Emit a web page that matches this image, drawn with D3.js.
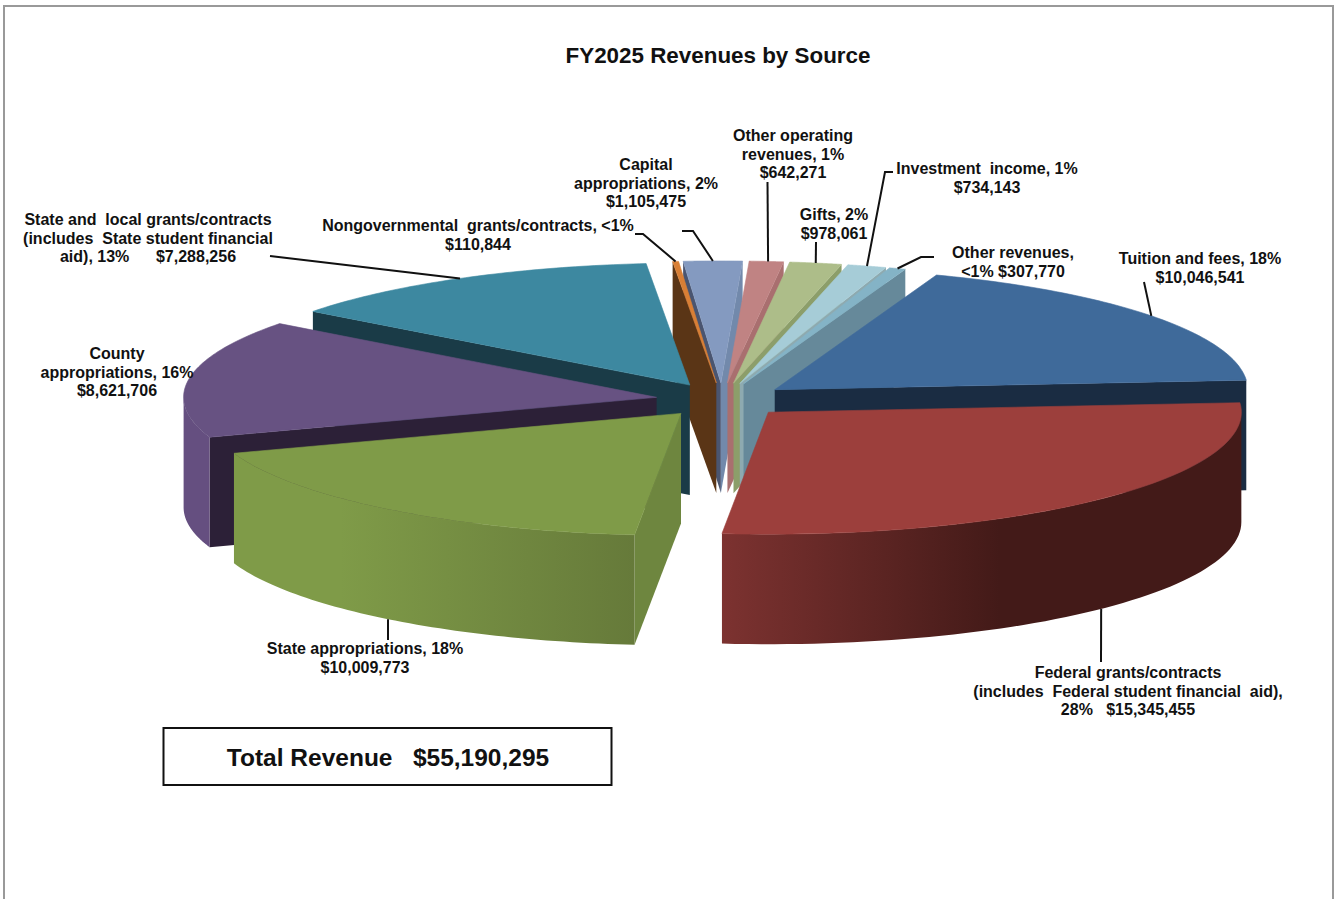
<!DOCTYPE html>
<html>
<head>
<meta charset="utf-8">
<script src="https://cdn.jsdelivr.net/npm/d3@7"></script>
<style>
  html, body { margin: 0; padding: 0; background: #fff; }
  svg { display: block; }
  text { font-family: "Liberation Sans", Arial, sans-serif; font-weight: bold; fill: #111; white-space: pre; }
</style>
</head>
<body>
<script>
const categories = ['Tuition and fees', 'Federal grants/contracts', 'State appropriations', 'County appropriations',
  'State and local grants/contracts', 'Nongovernmental grants/contracts', 'Capital appropriations',
  'Other operating revenues', 'Gifts', 'Investment income', 'Other revenues'];
const revenues = [10046541, 15345455, 10009773, 8621706, 7288256, 110844, 1105475, 642271, 978061, 734143, 307770];

// label text as it is broken in the picture, one array per slice
const labelLines = [
  ['Tuition and fees, 18%', '$10,046,541'],
  ['Federal grants/contracts', '(includes  Federal student financial  aid),', '28%   $15,345,455'],
  ['State appropriations, 18%', '$10,009,773'],
  ['County', 'appropriations, 16%', '$8,621,706'],
  ['State and  local grants/contracts', '(includes  State student financial', 'aid), 13%      $7,288,256'],
  ['Nongovernmental  grants/contracts, <1%', '$110,844'],
  ['Capital', 'appropriations, 2%', '$1,105,475'],
  ['Other operating', 'revenues, 1%', '$642,271'],
  ['Gifts, 2%', '$978,061'],
  ['Investment  income, 1%', '$734,143'],
  ['Other revenues,', '<1% $307,770']
];
// label centre x and first baseline
const labelAnchors = [[1200, 264], [1128, 678], [365, 654], [117, 359], [148, 225], [478, 231], [646, 170], [793, 141], [834, 220], [987, 174], [1013, 258]];
// where each leader leaves the label (points before the slice edge); County has none
const leaderElbows = [
  [[1144, 282]], [[1101, 662]], [[388, 640]], null, [[270, 256]],
  [[635, 234], [643, 234]], [[682, 231], [693, 231]], [[767.5, 182]], [[816, 242]],
  [[893, 172], [885, 172]], [[934, 257], [921, 257]]
];
// small correction of the leader foot along the rim, degrees
const leaderNudge = [0, -0.3, 0, 0, 0, 0, 0, 0.2, 0, 0, 0];

const topColors = ['#3f6a9a', '#9c3f3c', '#7f9b48', '#675282', '#3d88a0', '#d97f35', '#849ac0', '#c08383', '#adbd89', '#a6ccd7', '#84b3c6'];
const startWallColors = ['#2d4a6c', '#6c2c2a', '#6e863f', '#2c2037', '#1a3b47', '#5a3516', '#4a5570', '#8a5c5c', '#7c8a5e', '#7a959c', '#5f8394'];
const endWallColors = ['#1a2c42', '#43201e', '#576a33', '#3e314f', '#1f505f', '#8f5424', '#7289ab', '#a96f6f', '#8c9e6a', '#8eaab0', '#66899a'];
const wallStops = {
  1: [['#7c3230', 723], ['#431a18', 1000]],
  2: [['#7f9b48', 340], ['#667a3a', 635]]
};
const outerWallFlat = { 0: '#1a2c42', 3: '#654f80' };

const width = 1334, height = 899;
const explode = 0.14, depth = 110, rotation = 20;

// flat tilted pie: unit circle on screen through two scales
const px = d3.scaleLinear().domain([-1, 1]).range([722 - 473, 722 + 473]);
const py = d3.scaleLinear().domain([-1, 1]).range([400 + 122, 400 - 122]);

const rad = Math.PI / 180;
const slices = d3.pie().sort(null).startAngle(rotation * rad).endAngle((rotation + 360) * rad)(revenues);
const line = d3.line().x(d => d[0]).y(d => d[1]);

const svg = d3.select('body').append('svg').attr('width', width).attr('height', height);
const defs = svg.append('defs');

// frame of the original slide, open at the bottom
svg.append('path').attr('d', line([[4, 899], [4, 6], [1333, 6], [1333, 899]]))
  .attr('fill', 'none').attr('stroke', '#999').attr('stroke-width', 2);

svg.append('text').attr('x', 718).attr('y', 63).attr('text-anchor', 'middle').attr('font-size', 22.4)
  .text('FY2025 Revenues by Source');

slices.forEach((s, i) => {
  s.index = i;
  s.mid = (s.startAngle + s.endAngle) / 2;
  s.ox = explode * Math.sin(s.mid);
  s.oy = explode * Math.cos(s.mid);
  s.at = (a) => [px(s.ox + Math.sin(a)), py(s.oy + Math.cos(a))];
  s.apex = [px(s.ox), py(s.oy)];
});

const arcPoints = (s, a0, a1) => d3.range(0, 61).map(k => s.at(a0 + (a1 - a0) * k / 60));
const lower = p => [p[0], p[1] + depth];

const order = slices.slice().sort((a, b) => Math.cos(b.mid) - Math.cos(a.mid));
const pie = svg.append('g');

order.forEach(s => {
  const g = pie.append('g').attr('class', 'slice').attr('data-category', categories[s.index]);
  const a0 = s.startAngle, a1 = s.endAngle;

  // radial wall on the start side faces the viewer only on the left half
  if (Math.sin(a0) < 0) {
    const p = s.at(a0);
    g.append('path').attr('d', line([s.apex, p, lower(p), lower(s.apex)]) + 'Z').attr('fill', startWallColors[s.index]);
  }
  // same for the end side on the right half
  if (Math.sin(a1) > 0) {
    const p = s.at(a1);
    g.append('path').attr('d', line([s.apex, p, lower(p), lower(s.apex)]) + 'Z').attr('fill', endWallColors[s.index]);
  }

  // outer wall, front half of the circle only
  const w0 = Math.max(a0, Math.PI / 2), w1 = Math.min(a1, Math.PI * 1.5);
  if (w1 > w0) {
    const rim = arcPoints(s, w0, w1);
    let fill = outerWallFlat[s.index];
    if (wallStops[s.index]) {
      const stops = wallStops[s.index];
      const gradId = 'wall' + s.index;
      const lg = defs.append('linearGradient').attr('id', gradId).attr('gradientUnits', 'userSpaceOnUse')
        .attr('x1', stops[0][1]).attr('x2', stops[1][1]).attr('y1', 0).attr('y2', 0);
      lg.selectAll('stop').data(stops).join('stop').attr('offset', (d, k) => k).attr('stop-color', d => d[0]);
      fill = `url(#${gradId})`;
    }
    g.append('path').attr('d', line(rim.concat(rim.slice().reverse().map(lower))) + 'Z').attr('fill', fill);
  }

  // thin stroke in the same colour hides the seam against the wall
  g.append('path').attr('d', line([s.apex].concat(arcPoints(s, a0, a1))) + 'Z')
    .attr('fill', topColors[s.index]).attr('stroke', topColors[s.index]).attr('stroke-width', 0.6);
});

// leaders run to the middle of each slice rim
const leaders = svg.append('g').attr('fill', 'none').attr('stroke', '#111').attr('stroke-width', 2);
slices.forEach((s, i) => {
  if (!leaderElbows[i]) return;
  const foot = s.mid + leaderNudge[i] * rad;
  let end = s.at(foot);
  if (Math.cos(foot) < 0) end = lower(end);
  leaders.append('path').attr('d', line(leaderElbows[i].concat([end])));
});

const labels = svg.append('g').attr('font-size', 16).attr('text-anchor', 'middle');
labelLines.forEach((lines, i) => {
  const t = labels.append('text');
  lines.forEach((txt, k) => {
    t.append('tspan').attr('x', labelAnchors[i][0]).attr('y', labelAnchors[i][1] + k * 18.6).text(txt);
  });
});

// total box
svg.append('rect').attr('x', 163.5).attr('y', 728).attr('width', 448).attr('height', 57)
  .attr('fill', '#fff').attr('stroke', '#111').attr('stroke-width', 2);
svg.append('text').attr('x', 388).attr('y', 766).attr('text-anchor', 'middle').attr('font-size', 24.5)
  .text('Total Revenue   $55,190,295');
</script>
</body>
</html>
